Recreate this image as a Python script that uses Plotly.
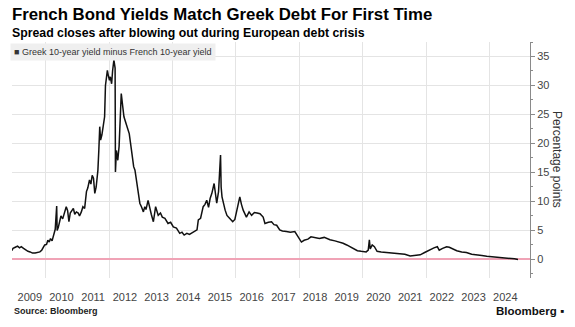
import plotly.graph_objects as go

# Greek 10-year yield minus French 10-year yield, percentage points
dates = [
    "2008-12-05", "2008-12-20", "2009-01-15", "2009-02-10", "2009-03-05", "2009-03-25",
    "2009-04-20", "2009-05-15", "2009-06-10", "2009-07-05", "2009-08-01", "2009-09-01",
    "2009-10-01", "2009-10-25", "2009-11-15", "2009-12-05", "2009-12-20", "2010-01-10",
    "2010-01-25", "2010-02-10", "2010-02-25", "2010-03-15", "2010-04-01", "2010-04-20",
    "2010-05-07", "2010-05-12", "2010-05-25", "2010-06-10", "2010-06-25", "2010-07-15",
    "2010-08-01", "2010-08-25", "2010-09-10", "2010-09-25", "2010-10-10", "2010-10-25",
    "2010-11-15", "2010-12-01", "2010-12-20", "2011-01-10", "2011-01-25", "2011-02-15",
    "2011-03-05", "2011-03-25", "2011-04-15", "2011-04-30", "2011-05-20", "2011-06-05",
    "2011-06-20", "2011-07-05", "2011-07-20", "2011-08-05", "2011-08-25", "2011-09-05",
    "2011-09-15", "2011-09-25", "2011-10-10", "2011-10-25", "2011-11-10", "2011-11-20",
    "2011-12-01", "2011-12-12", "2011-12-22", "2012-01-05", "2012-01-15", "2012-01-30",
    "2012-02-10", "2012-02-25", "2012-03-10", "2012-03-14", "2012-03-25", "2012-04-10",
    "2012-04-25", "2012-05-10", "2012-05-20", "2012-06-05", "2012-06-20", "2012-07-15",
    "2012-08-05", "2012-08-20", "2012-09-15", "2012-10-10", "2012-10-25", "2012-11-10",
    "2012-12-01", "2012-12-20", "2013-01-10", "2013-01-30", "2013-02-15", "2013-03-01",
    "2013-03-25", "2013-04-15", "2013-05-01", "2013-05-25", "2013-06-20", "2013-07-20",
    "2013-08-15", "2013-09-05", "2013-10-05", "2013-11-10", "2013-12-10", "2014-01-10",
    "2014-02-15", "2014-03-25", "2014-04-20", "2014-05-15", "2014-06-15", "2014-07-15",
    "2014-08-15", "2014-09-15", "2014-10-10", "2014-10-25", "2014-11-20", "2014-12-20",
    "2015-01-10", "2015-01-30", "2015-02-20", "2015-03-10", "2015-03-30", "2015-04-25",
    "2015-05-10", "2015-05-25", "2015-06-15", "2015-07-08", "2015-07-15", "2015-07-25",
    "2015-08-30", "2015-09-20", "2015-10-20", "2015-11-25", "2015-12-20", "2016-01-10",
    "2016-02-15", "2016-03-05", "2016-03-25", "2016-05-01", "2016-06-01", "2016-06-30",
    "2016-08-01", "2016-09-01", "2016-10-05", "2016-11-10", "2016-12-01", "2017-01-10",
    "2017-02-15", "2017-03-15", "2017-04-15", "2017-05-20", "2017-06-20", "2017-08-05",
    "2017-09-20", "2017-11-10", "2017-12-20", "2018-01-25", "2018-02-25", "2018-04-10",
    "2018-05-15", "2018-06-15", "2018-08-20", "2018-10-15", "2018-12-20", "2019-02-15",
    "2019-04-10", "2019-05-20", "2019-07-01", "2019-08-15", "2019-09-15", "2019-11-01",
    "2019-12-15", "2020-02-10", "2020-03-05", "2020-03-18", "2020-03-28", "2020-04-20",
    "2020-05-15", "2020-06-15", "2020-08-01", "2020-10-01", "2020-11-15", "2021-01-05",
    "2021-03-01", "2021-05-01", "2021-07-01", "2021-09-01", "2021-10-25", "2021-12-15",
    "2022-01-20", "2022-03-01", "2022-04-01", "2022-05-10", "2022-06-01", "2022-07-10",
    "2022-08-25", "2022-09-25", "2022-10-25", "2022-12-20", "2023-02-15", "2023-04-10",
    "2023-06-10", "2023-08-05", "2023-10-05", "2023-12-01", "2024-02-01", "2024-03-25",
    "2024-05-20", "2024-07-15", "2024-09-10", "2024-10-15", "2024-11-25",
]
spread = [
    1.5, 1.9, 2.1, 2.3, 2.0, 2.2,
    1.9, 1.6, 1.4, 1.3, 1.1, 1.1,
    1.2, 1.3, 1.6, 2.0, 2.5, 2.6,
    3.3, 3.0, 3.6, 3.2, 4.2, 5.2,
    9.2, 5.0, 5.5, 6.8, 7.5, 7.0,
    8.0, 9.1, 8.4, 6.5, 8.0, 8.4,
    8.8, 7.8, 8.2, 8.0, 7.5, 8.2,
    9.1, 8.8, 11.7, 12.3, 13.7, 13.0,
    14.5, 14.0, 11.4, 12.5, 15.4, 19.0,
    22.9, 20.6, 21.5, 23.0, 24.6, 30.0,
    32.1, 32.6, 31.8, 30.9, 31.5, 30.3,
    32.5, 34.4, 33.0, 15.1, 18.8, 17.1,
    19.5, 26.3, 28.6, 26.5, 24.6, 23.4,
    22.5, 21.7, 18.8, 16.0, 15.4, 13.7,
    11.5, 9.7, 9.0, 8.2, 9.1, 8.6,
    10.2, 8.5, 7.8, 6.5, 9.1, 7.6,
    8.0, 7.3, 7.1, 6.2, 6.4, 5.6,
    5.4, 4.5, 4.7, 4.2, 4.5, 4.3,
    4.6, 4.8, 5.1, 6.8, 7.1, 9.1,
    9.5, 10.2, 9.0, 10.5, 11.4, 13.1,
    11.0, 9.7, 11.7, 18.0, 12.5, 10.8,
    8.5, 7.6, 7.1, 6.5, 6.9, 8.5,
    10.8, 9.5, 8.5, 7.3, 8.2, 7.6,
    8.1, 8.0, 7.9, 7.3, 6.2, 6.4,
    6.5, 6.0, 5.9, 5.1, 4.9, 4.8,
    4.7, 4.8, 3.9, 3.0, 3.3, 3.5,
    3.9, 3.8, 3.6, 3.8, 3.4, 3.2,
    3.0, 2.8, 2.5, 2.1, 1.9, 1.5,
    1.4, 1.3, 1.6, 3.4, 1.8, 2.5,
    2.2, 1.4, 1.3, 1.2, 1.1, 1.1,
    1.0, 0.9, 0.6, 0.7, 0.8, 1.2,
    1.5, 1.7, 2.0, 2.2, 1.6, 1.9,
    2.2, 2.1, 1.9, 1.5, 1.3, 1.2,
    0.9, 0.74, 0.7, 0.57, 0.5, 0.45,
    0.38, 0.28, 0.2, 0.1, 0.0,
]

years = list(range(2009, 2025))
year_label_pos = [f"{y}-07-01" for y in years]
grid_years = [f"{y}-01-01" for y in range(2010, 2026, 2)]
y_ticks = [0, 5, 10, 15, 20, 25, 30, 35]

FONT = "Liberation Sans, Arial, sans-serif"
GRID = "#e4e4e4"

fig = go.Figure()
fig.add_trace(go.Scatter(
    x=dates, y=spread, mode="lines",
    line=dict(color="#111111", width=1.5),
    name="Greek 10-year yield minus French 10-year yield",
    showlegend=False,
))
# invisible companion trace carrying the biennial vertical gridlines
fig.add_trace(go.Scatter(x=[dates[0], dates[-1]], y=[None, None], xaxis="x2",
                         showlegend=False, hoverinfo="skip"))

x_range = ["2008-12-08", "2025-04-12"]

fig.update_layout(
    width=575, height=327,
    margin=dict(l=12, r=45, t=42, b=49),
    paper_bgcolor="white", plot_bgcolor="white",
    font=dict(family=FONT, color="#333333"),
    xaxis=dict(
        type="date", range=x_range,
        tickmode="array", tickvals=year_label_pos, ticktext=[str(y) for y in years],
        showgrid=False, ticks="", ticklabelstandoff=11,
        tickfont=dict(size=11, color="#444444"),
        showline=False, zeroline=False,
    ),
    xaxis2=dict(
        type="date", range=x_range, overlaying="x",
        tickmode="array", tickvals=grid_years, showticklabels=False,
        showgrid=True, gridcolor=GRID, gridwidth=1, ticks="",
        zeroline=False, showline=False,
    ),
    yaxis=dict(
        side="right", range=[-3.2, 37.5],
        tickmode="array", tickvals=y_ticks,
        showgrid=True, gridcolor=GRID, gridwidth=1,
        zeroline=True, zerolinecolor="#f0a3b6", zerolinewidth=2,
        showline=True, linecolor="#8a8a8a", linewidth=1,
        ticks="outside", ticklen=4, tickcolor="#8a8a8a",
        minor=dict(dtick=2.5, tick0=0, ticks="outside", ticklen=2, tickcolor="#8a8a8a", showgrid=False),
        tickfont=dict(size=11, color="#444444"),
    ),
)

fig.add_annotation(
    text="French Bond Yields Match Greek Debt For First Time",
    xref="paper", yref="paper", x=-0.004, y=1.0, xanchor="left", yanchor="bottom",
    yshift=16, showarrow=False,
    font=dict(family=FONT, size=16.8, color="#000000", weight="bold"),
)
fig.add_annotation(
    text="Spread closes after blowing out during European debt crisis",
    xref="paper", yref="paper", x=-0.004, y=1.0, xanchor="left", yanchor="bottom",
    yshift=0, showarrow=False,
    font=dict(family=FONT, size=12.3, color="#000000", weight="bold"),
)
fig.add_annotation(
    text="■ Greek 10-year yield minus French 10-year yield",
    xref="paper", yref="paper", x=-0.004, y=0.996, xanchor="left", yanchor="top",
    showarrow=False, bgcolor="#efefef", borderpad=3,
    font=dict(family=FONT, size=9, color="#333333"),
)
fig.add_annotation(
    text="Percentage points",
    xref="paper", yref="paper", x=1.052, y=0.5, xanchor="center", yanchor="middle",
    textangle=90, showarrow=False,
    font=dict(family=FONT, size=12, color="#333333"),
)
fig.add_annotation(
    text="Source: Bloomberg",
    xref="paper", yref="paper", x=0.0, y=0.0, xanchor="left", yanchor="top",
    yshift=-26, showarrow=False,
    font=dict(family=FONT, size=9, color="#222222", weight="bold"),
)
fig.add_annotation(
    text="Bloomberg ▪",
    xref="paper", yref="paper", x=1.0, y=0.0, xanchor="left", yanchor="top",
    xshift=-36, yshift=-25, showarrow=False,
    font=dict(family=FONT, size=11.5, color="#111111", weight="bold"),
)

fig.write_html("out.html")
